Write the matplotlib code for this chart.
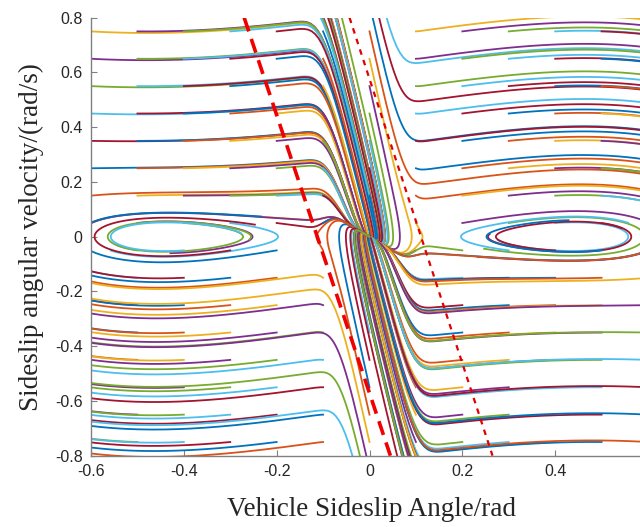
import numpy as np
import matplotlib
matplotlib.use("Agg")
import matplotlib.pyplot as plt

# starting states of the phase trajectories
beta_starts = [-0.6, -0.5, -0.4, -0.3, -0.2, -0.1, 0.0, 0.1, 0.2, 0.3, 0.4, 0.5, 0.6]
rate_starts = [1.05, 0.95, 0.85, 0.75, 0.65, 0.55, 0.45, 0.35, 0.25, 0.15, 0.05,
               -0.05, -0.15, -0.25, -0.35, -0.45, -0.55, -0.65, -0.75, -0.85, -0.95,
               -1.05]

# phase plane model
k_lin = 6.5        # stiffness inside the linear tyre region
c_lin = 7.5        # damping inside the linear tyre region
band_half = 0.08   # half width of the linear region
band_tilt = 30.0
shape_gain = 1.1
shape_zero = 0.47
beta_eq = 0.44
stiff_out = 0.4
rate_soft = 0.1
sim_time = 12.0
dt = 0.01

# stability boundary (double line method)
bound_left_beta = [-0.27, 0.045]
bound_left_rate = [0.8, -0.8]
bound_right_beta = [-0.043, 0.265]
bound_right_rate = [0.8, -0.8]

matlab_colors = ["#0072BD", "#D95319", "#EDB120", "#7E2F8E",
                 "#77AC30", "#4DBEEE", "#A2142F"]


def accel(b, r):
    u = b + r / band_tilt
    w = np.exp(-np.log(2) * (u / band_half) ** 4)
    inner = -k_lin * b - c_lin * r
    outer = (shape_gain * (shape_zero ** 2 - b ** 2) * r * r ** 2 / (r ** 2 + rate_soft ** 2)
             + stiff_out * b * (beta_eq ** 2 - b ** 2))
    return w * inner + (1 - w) * outer


def simulate(b0, r0):
    b = np.array(b0, dtype=float)
    r = np.array(r0, dtype=float)
    steps = int(sim_time / dt)
    B = np.full((steps + 1, b.size), np.nan)
    R = np.full((steps + 1, b.size), np.nan)
    B[0], R[0] = b, r
    alive = np.ones(b.size, dtype=bool)
    for i in range(steps):
        k1b, k1r = r, accel(b, r)
        k2b, k2r = r + 0.5 * dt * k1r, accel(b + 0.5 * dt * k1b, r + 0.5 * dt * k1r)
        k3b, k3r = r + 0.5 * dt * k2r, accel(b + 0.5 * dt * k2b, r + 0.5 * dt * k2r)
        k4b, k4r = r + dt * k3r, accel(b + dt * k3b, r + dt * k3r)
        b = b + dt / 6 * (k1b + 2 * k2b + 2 * k3b + k4b)
        r = r + dt / 6 * (k1r + 2 * k2r + 2 * k3r + k4r)
        B[i + 1, alive] = b[alive]
        R[i + 1, alive] = r[alive]
        alive &= (np.abs(b) < 0.65) & (np.abs(r) < 2.0)
    return B, R


b0 = [bx for bx in beta_starts for _ in rate_starts]
r0 = [ry for _ in beta_starts for ry in rate_starts]
B, R = simulate(b0, r0)

plt.rcParams["font.family"] = "Liberation Sans"
fig = plt.figure(figsize=(6.4, 5.27), dpi=100)
ax = fig.add_axes([91 / 640, (527 - 455.7) / 527, (648 - 91) / 640, 438 / 527])

for j in range(B.shape[1]):
    ax.plot(B[:, j], R[:, j], color=matlab_colors[(j + 6) % 7], lw=1.3)

ax.plot(bound_left_beta, bound_left_rate, color="#F00000", lw=2.6, ls=(0, (4, 2.2)))
ax.plot(bound_right_beta, bound_right_rate, color="#E00000", lw=1.6, ls=(0, (2.5, 2.5)))

ax.set_xlim(-0.6, 0.6)
ax.set_ylim(-0.8, 0.8)
ax.set_xticks([-0.6, -0.4, -0.2, 0, 0.2, 0.4])
ax.set_xticklabels(["-0.6", "-0.4", "-0.2", "0", "0.2", "0.4"])
ax.set_yticks([-0.8, -0.6, -0.4, -0.2, 0, 0.2, 0.4, 0.6, 0.8])
ax.set_yticklabels(["-0.8", "-0.6", "-0.4", "-0.2", "0", "0.2", "0.4", "0.6", "0.8"])
ax.spines["top"].set_visible(False)
ax.spines["right"].set_visible(False)
for s in ["left", "bottom"]:
    ax.spines[s].set_color("#808080")
    ax.spines[s].set_linewidth(1.0)
ax.tick_params(direction="in", length=4, color="#808080", labelsize=11.5,
               labelcolor="#262626", pad=6)

ax.set_xlabel("Vehicle Sideslip Angle/rad", family="Liberation Serif", fontsize=19.5,
              color="#262626")
ax.set_ylabel("Sideslip angular velocity/(rad/s)", family="Liberation Serif",
              fontsize=19.5, color="#262626")
ax.xaxis.set_label_coords((371.5 - 91) / 557, (455.7 - 497) / 438)
ax.yaxis.set_label_coords((44 - 91) / 557, 0.5)

fig.savefig("out.png", dpi=100)
